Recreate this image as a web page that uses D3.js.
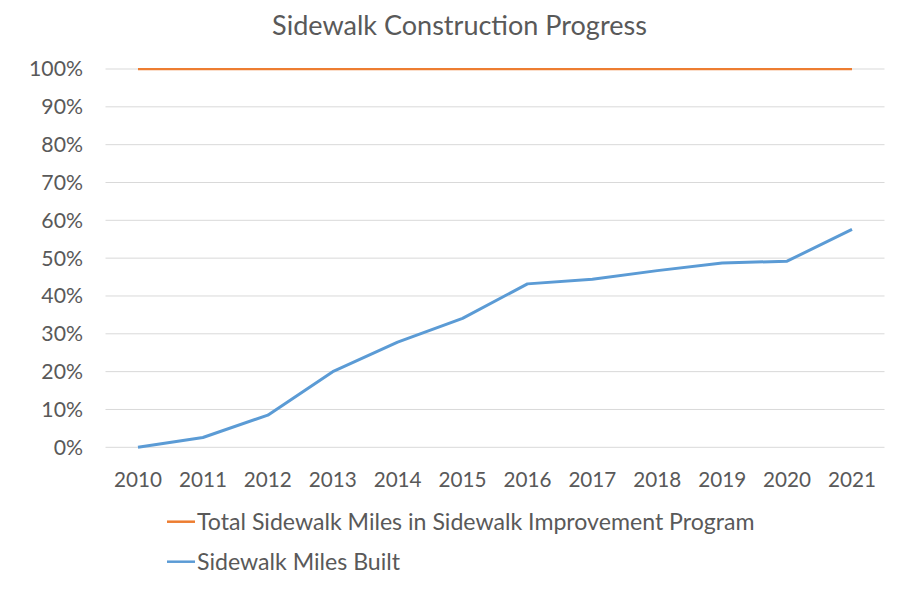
<!DOCTYPE html>
<html><head><meta charset="utf-8">
<script src="https://cdn.jsdelivr.net/npm/d3@7"></script>
<style>body{margin:0;background:#fff}text{font-family:Lato,"Open Sans",sans-serif;fill:#595959}</style>
</head><body>
<svg id="c" width="907" height="612"></svg>
<script>
const years = ["2010","2011","2012","2013","2014","2015","2016","2017","2018","2019","2020","2021"];
const totalProgram = [1,1,1,1,1,1,1,1,1,1,1,1];
const milesBuilt = [0,0.026,0.085,0.20,0.278,0.341,0.432,0.444,0.467,0.487,0.492,0.576];
const yTicks = [0,0.1,0.2,0.3,0.4,0.5,0.6,0.7,0.8,0.9,1.0];
const seriesNames = ["Total Sidewalk Miles in Sidewalk Improvement Program","Sidewalk Miles Built"];
const colors = ["#ED7D31","#5B9BD5"];

const svg = d3.select("#c");
const x = d3.scalePoint().domain(years).range([138,852]);
const y = d3.scaleLinear().domain([0,1]).range([447.3,69]);
const left=105.5, right=884.5;

// scale a text's font so that its width matches the reference
function fit(sel, base, target){
  sel.style("font-size", base+"px");
  const w = sel.node().getComputedTextLength();
  const fs = base*target/w;
  return fs;
}

const title = svg.append("text").attr("x",459.5).attr("y",35).attr("text-anchor","middle")
  .text("Sidewalk Construction Progress");
title.style("font-size", fit(title,24,375)+"px");

svg.append("g").selectAll("line").data(yTicks).join("line")
  .attr("x1",left).attr("x2",right).attr("y1",d=>y(d)).attr("y2",d=>y(d))
  .attr("stroke","#d9d9d9").attr("stroke-width",1);

const yl = svg.append("g").selectAll("text").data(yTicks).join("text")
  .attr("x",83).attr("y",d=>y(d)).attr("dy","0.35em").attr("text-anchor","end")
  .text(d3.format(".0%"));
const yfs = fit(yl.filter(d=>d===1),20,54);
yl.style("font-size",yfs+"px");

const xl = svg.append("g").selectAll("text").data(years).join("text")
  .attr("x",d=>x(d)).attr("y",487).attr("text-anchor","middle").text(d=>d);
const xfs = fit(xl.filter((d,i)=>i===0),20,48);
xl.style("font-size",xfs+"px");

const line = d3.line().x((d,i)=>x(years[i])).y(d=>y(d));
[totalProgram, milesBuilt].forEach((s,i)=>{
  svg.append("path").datum(s).attr("d",line).attr("fill","none")
    .attr("stroke",colors[i]).attr("stroke-width",i===0?2.25:3).attr("stroke-linejoin","round");
});

const lg = svg.append("g");
const lt = [];
seriesNames.forEach((n,i)=>{
  const yy = 521.7 + i*40;
  lg.append("line").attr("x1",167).attr("x2",195).attr("y1",yy).attr("y2",yy)
    .attr("stroke",colors[i]).attr("stroke-width",2.5);
  lt.push(lg.append("text").attr("x",197).attr("y",yy).attr("dy","0.35em").text(n));
});
const lfs = fit(lt[0],20,558);
lt.forEach(t=>t.style("font-size",lfs+"px"));
</script>
</body></html>
